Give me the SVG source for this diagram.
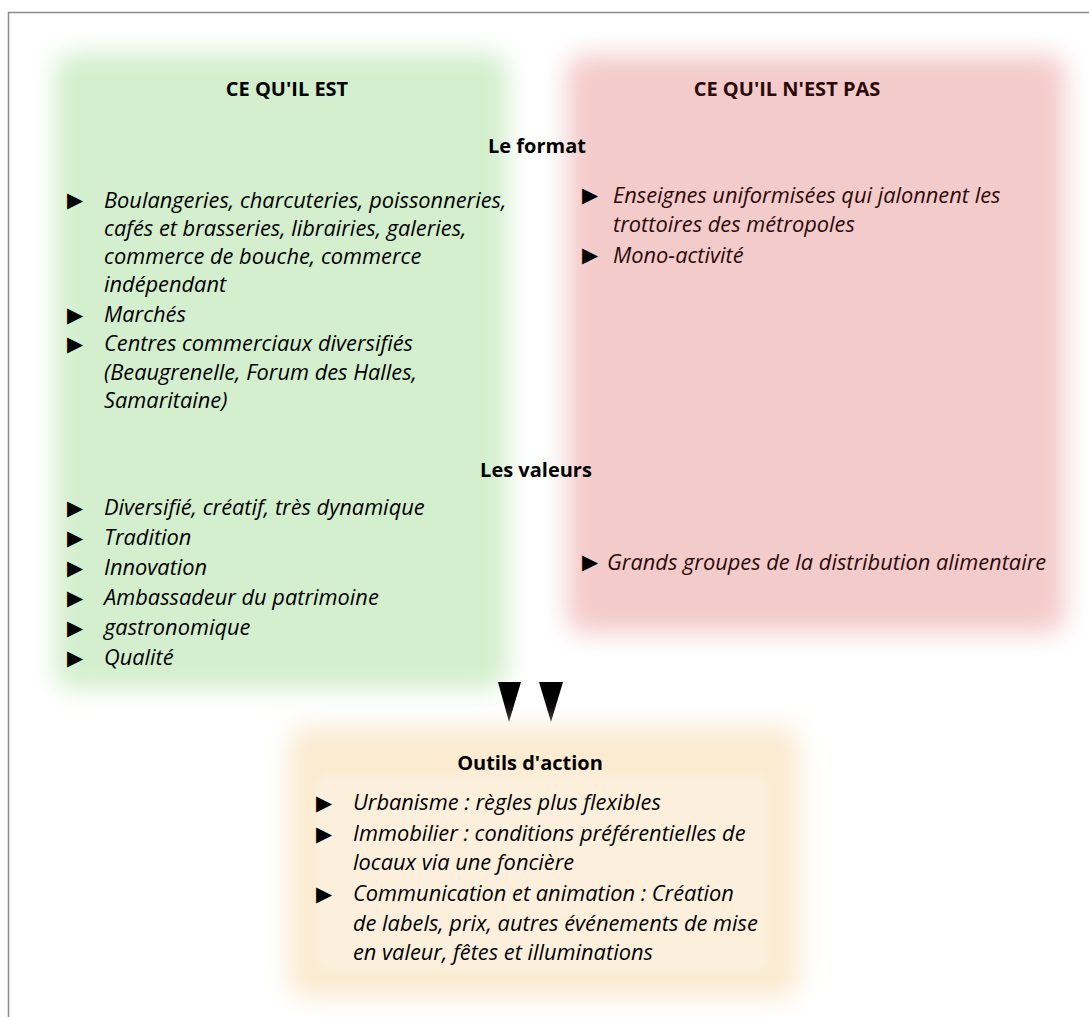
<svg xmlns="http://www.w3.org/2000/svg" width="1089" height="1017" viewBox="0 0 1089 1017">
<defs>
<filter id="soft" x="-10%" y="-10%" width="120%" height="120%"><feGaussianBlur stdDeviation="12"/></filter>
<filter id="soft2" x="-10%" y="-10%" width="120%" height="120%"><feGaussianBlur stdDeviation="4"/></filter>
</defs>
<style>
.h{font-family:"Open Sans",Lato,sans-serif;font-weight:bold;font-size:20px;text-anchor:middle;fill:#000}
.t{font-family:"Open Sans",Lato,sans-serif;font-style:italic;font-size:21.8px;fill:#000}
.r{fill:#2b0a0a}
.b{font-family:"DejaVu Sans",sans-serif;font-size:21px;fill:#000}
</style>
<rect x="0" y="0" width="1089" height="1017" fill="#fff"/>
<rect x="8.5" y="12.5" width="1100" height="1020" fill="none" stroke="#8a8a8a" stroke-width="1.5"/>
<g id="green">
<rect x="55" y="53" width="452" height="636" rx="18" fill="#d3efcd" filter="url(#soft)"/>
<text class="h" x="287" y="96">CE QU'IL EST</text>
<text class="b" x="67" y="207">▶</text><text class="t" x="104" y="208">Boulangeries, charcuteries, poissonneries,</text>
<text class="t" x="104" y="236">cafés et brasseries, librairies, galeries,</text>
<text class="t" x="104" y="264">commerce de bouche, commerce</text>
<text class="t" x="104" y="292">indépendant</text>
<text class="b" x="67" y="322">▶</text><text class="t" x="104" y="322">Marchés</text>
<text class="b" x="67" y="351">▶</text><text class="t" x="104" y="351">Centres commerciaux diversifiés</text>
<text class="t" x="104" y="380">(Beaugrenelle, Forum des Halles,</text>
<text class="t" x="104" y="408">Samaritaine)</text>
<text class="b" x="67" y="515">▶</text><text class="t" x="104" y="515">Diversifié, créatif, très dynamique</text>
<text class="b" x="67" y="545">▶</text><text class="t" x="104" y="545">Tradition</text>
<text class="b" x="67" y="575">▶</text><text class="t" x="104" y="575">Innovation</text>
<text class="b" x="67" y="605">▶</text><text class="t" x="104" y="605">Ambassadeur du patrimoine</text>
<text class="b" x="67" y="635">▶</text><text class="t" x="104" y="635">gastronomique</text>
<text class="b" x="67" y="665">▶</text><text class="t" x="104" y="665">Qualité</text>
</g>
<g id="red">
<rect x="567" y="55" width="498" height="578" rx="18" fill="#f4cbcb" filter="url(#soft)"/>
<text class="h r" x="787" y="96">CE QU'IL N'EST PAS</text>
<text class="b r" x="582" y="202">▶</text><text class="t r" x="613" y="203">Enseignes uniformisées qui jalonnent les</text>
<text class="t r" x="613" y="232">trottoires des métropoles</text>
<text class="b r" x="582" y="262">▶</text><text class="t r" x="613" y="263">Mono-activité</text>
<text class="b r" x="582" y="569">▶</text><text class="t r" x="607" y="570">Grands groupes de la distribution alimentaire</text>
</g>
<g id="sections">
<text class="h" x="537" y="153">Le format</text>
<text class="h" x="536" y="477">Les valeurs</text>
</g>
<g id="connectors">
<polygon points="498,682 521,682 509,722" fill="#000"/>
<polygon points="539,682 563,682 551,722" fill="#000"/>
</g>
<g id="outils">
<rect x="288" y="726" width="512" height="272" rx="20" fill="#fbebd1" filter="url(#soft)"/>
<rect x="316" y="774" width="452" height="198" rx="14" fill="#fcf0dd" filter="url(#soft2)"/>
<text class="h" x="530" y="770">Outils d'action</text>
<text class="b" x="316" y="810">▶</text><text class="t" x="353" y="810">Urbanisme : règles plus flexibles</text>
<text class="b" x="316" y="841">▶</text><text class="t" x="353" y="841">Immobilier : conditions préférentielles de</text>
<text class="t" x="353" y="870">locaux via une foncière</text>
<text class="b" x="316" y="901">▶</text><text class="t" x="353" y="901">Communication et animation : Création</text>
<text class="t" x="353" y="931">de labels, prix, autres événements de mise</text>
<text class="t" x="353" y="960">en valeur, fêtes et illuminations</text>
</g>
</svg>
